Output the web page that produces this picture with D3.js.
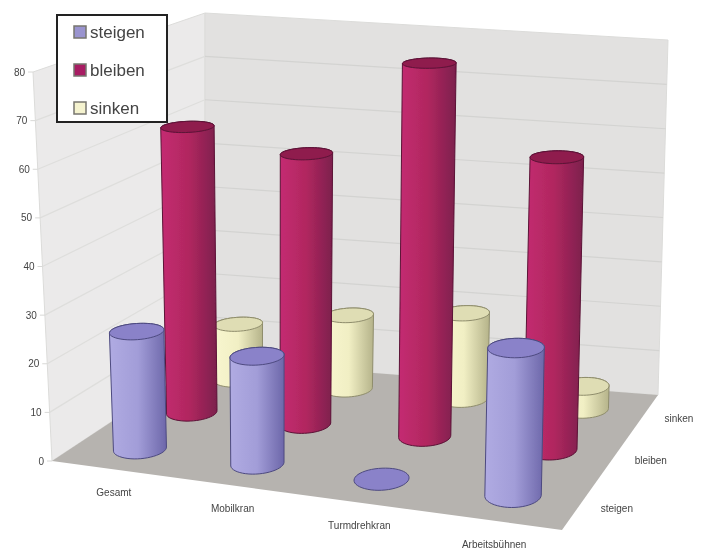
<!DOCTYPE html>
<html>
<head>
<meta charset="utf-8">
<script src="https://cdn.jsdelivr.net/npm/d3@7"></script>
<style>
  html, body { margin: 0; padding: 0; background: #fff; }
  svg { display: block; }
  text { font-family: "Liberation Sans", Arial, sans-serif; fill: #444; }
</style>
</head>
<body>
<script>
// data
const categories = ['Gesamt', 'Mobilkran', 'Turmdrehkran', 'Arbeitsbühnen'];
const seriesNames = ['steigen', 'bleiben', 'sinken'];
const steigen = [24.5, 22, 0, 29];
const bleiben = [62, 58, 79, 61];
const sinken = [12.5, 16.5, 19, 5];
const valueTicks = [0, 10, 20, 30, 40, 50, 60, 70, 80];

const seriesValues = [steigen, bleiben, sinken];
const seriesColors = [
  { id: 'steigen', stops: ['#b0abe2', '#a29dd8', '#6d67aa'], cap: '#8a82c9', line: '#4d4a80', swatch: '#9a94cf' },
  { id: 'bleiben', stops: ['#c42c72', '#b1275f', '#7c1f4d'], cap: '#8f1a4d', line: '#5b1236', swatch: '#a81f63' },
  { id: 'sinken', stops: ['#f8f6cf', '#f1efc4', '#b5b38a'], cap: '#dfddb4', line: '#8f8d6c', swatch: '#f5f3cf' }
];

const width = 706, height = 549;

// box corners on screen: front-left, front-right, back-right, back-left
const floorQuad = [[52, 461], [562, 530], [658, 395], [205, 360]];
const topQuad = [[33, 72], [570, 105], [668, 40], [205, 13]];

// maps the unit square on to a quad
function quadMap(q) {
  const [p0, p1, p2, p3] = q;
  const dx1 = p1[0] - p2[0], dx2 = p3[0] - p2[0], sx = p0[0] - p1[0] + p2[0] - p3[0];
  const dy1 = p1[1] - p2[1], dy2 = p3[1] - p2[1], sy = p0[1] - p1[1] + p2[1] - p3[1];
  const den = dx1 * dy2 - dx2 * dy1;
  const g = (sx * dy2 - dx2 * sy) / den, h = (dx1 * sy - sx * dy1) / den;
  const a = p1[0] - p0[0] + g * p1[0], b = p3[0] - p0[0] + h * p3[0];
  const d = p1[1] - p0[1] + g * p1[1], e = p3[1] - p0[1] + h * p3[1];
  return (u, v) => {
    const w = g * u + h * v + 1;
    return [(a * u + b * v + p0[0]) / w, (d * u + e * v + p0[1]) / w];
  };
}

const floorMap = quadMap(floorQuad);
const topMap = quadMap(topQuad);

const x = d3.scaleBand().domain(categories).range([0, 1]);
const z = d3.scaleBand().domain(seriesNames).range([0, 1]);
const y = d3.scaleLinear().domain([0, 80]).range([0, 1]);

// the picture is not a clean perspective, so nudge both planes to keep the columns upright
const floorWarp = d3.scaleLinear()
  .domain([0, 0.125, 0.375, 0.625, 0.875, 1])
  .range([0, 0.146, 0.407, 0.655, 0.89, 1]);
const topWarp = d3.scaleLinear()
  .domain([0, 0.125, 0.375, 0.625, 0.875, 1])
  .range([0, 0.125, 0.37, 0.615, 0.875, 1]);

// u, v on the floor, t = height share
function project(u, v, t) {
  const a = floorMap(floorWarp(u), v), b = topMap(topWarp(u), v);
  return [a[0] + (b[0] - a[0]) * t, a[1] + (b[1] - a[1]) * t];
}

const svg = d3.select('body').append('svg')
  .attr('width', width)
  .attr('height', height);

const defs = svg.append('defs');
defs.append('filter').attr('id', 'soft')
  .attr('filterUnits', 'userSpaceOnUse')
  .attr('x', 0).attr('y', 0)
  .attr('width', width).attr('height', height)
  .append('feGaussianBlur').attr('stdDeviation', 0.7);

seriesColors.forEach(c => {
  const g = defs.append('linearGradient').attr('id', 'grad-' + c.id)
    .attr('x1', 0).attr('x2', 1).attr('y1', 0).attr('y2', 0);
  g.append('stop').attr('offset', '0%').attr('stop-color', c.stops[0]);
  g.append('stop').attr('offset', '50%').attr('stop-color', c.stops[1]);
  g.append('stop').attr('offset', '100%').attr('stop-color', c.stops[2]);
});

const root = svg.append('g').attr('filter', 'url(#soft)');
const line = d3.line();
const closed = pts => line(pts) + 'Z';

// walls
root.append('path')
  .attr('d', closed([project(0, 0, 0), project(0, 1, 0), project(0, 1, 1), project(0, 0, 1)]))
  .attr('fill', '#ebeaea').attr('stroke', '#dcdcda');
root.append('path')
  .attr('d', closed([project(0, 1, 0), project(1, 1, 0), project(1, 1, 1), project(0, 1, 1)]))
  .attr('fill', '#e2e1e0').attr('stroke', '#dcdcda');

// gridlines
valueTicks.slice(1, -1).forEach(t => {
  root.append('path')
    .attr('d', line([project(0, 0, y(t)), project(0, 1, y(t))]))
    .attr('fill', 'none').attr('stroke', '#dededc').attr('stroke-width', 1.2);
  root.append('path')
    .attr('d', line([project(0, 1, y(t)), project(1, 1, y(t))]))
    .attr('fill', 'none').attr('stroke', '#d3d3d1').attr('stroke-width', 1.2);
});

// floor
root.append('path')
  .attr('d', closed([project(0, 0, 0), project(1, 0, 0), project(1, 1, 0), project(0, 1, 0)]))
  .attr('fill', '#b6b3af');

// value axis
valueTicks.forEach(t => {
  const p = project(0, 0, y(t));
  root.append('line')
    .attr('x1', p[0] - 5).attr('x2', p[0]).attr('y1', p[1]).attr('y2', p[1])
    .attr('stroke', '#d8d8d6');
  root.append('text')
    .attr('x', p[0] - 8).attr('y', p[1] + 3.5)
    .attr('text-anchor', 'end').attr('font-size', 10)
    .text(t);
});

// cylinders, back row first
const radU = 0.198 / 4, radV = 0.235 / 3;
const circle = (cu, cv, t) => d3.range(0, 48).map(i => {
  const a = i / 48 * 2 * Math.PI;
  return project(cu + radU * Math.cos(a), cv + radV * Math.sin(a), t);
});

seriesNames.slice().reverse().forEach(name => {
  const j = seriesNames.indexOf(name);
  const c = seriesColors[j];
  categories.forEach((cat, i) => {
    const cu = x(cat) + x.bandwidth() / 2;
    const cv = z(name) + z.bandwidth() / 2;
    const t = y(seriesValues[j][i]);
    const base = circle(cu, cv, 0), cap = circle(cu, cv, t);
    if (t > 0) {
      root.append('path')
        .attr('d', closed(d3.polygonHull(base.concat(cap))))
        .attr('fill', 'url(#grad-' + c.id + ')')
        .attr('stroke', c.line).attr('stroke-width', 1);
    }
    root.append('path')
      .attr('d', closed(cap))
      .attr('fill', c.cap)
      .attr('stroke', c.line).attr('stroke-width', 1);
  });
});

// category labels
categories.forEach(cat => {
  const p = project(x(cat) + x.bandwidth() / 2, 0, 0);
  root.append('text')
    .attr('x', p[0] + 1).attr('y', p[1] + 27)
    .attr('text-anchor', 'middle').attr('font-size', 10)
    .text(cat);
});

// series labels
seriesNames.forEach(name => {
  const p = project(1, z(name) + z.bandwidth() / 2, 0);
  root.append('text')
    .attr('x', p[0] + 20).attr('y', p[1] + 8)
    .attr('font-size', 10)
    .text(name);
});

// legend
const legend = root.append('g');
legend.append('rect')
  .attr('x', 57).attr('y', 15).attr('width', 110).attr('height', 107)
  .attr('fill', '#fff').attr('stroke', '#222').attr('stroke-width', 2);
const legendY = d3.scalePoint().domain(seriesNames).range([32, 108]);
seriesNames.forEach((name, j) => {
  legend.append('rect')
    .attr('x', 74).attr('y', legendY(name) - 6).attr('width', 12).attr('height', 12)
    .attr('fill', seriesColors[j].swatch).attr('stroke', '#77766f').attr('stroke-width', 1.5);
  legend.append('text')
    .attr('x', 90).attr('y', legendY(name) + 5.5)
    .attr('font-size', 17)
    .text(name);
});
</script>
</body>
</html>
